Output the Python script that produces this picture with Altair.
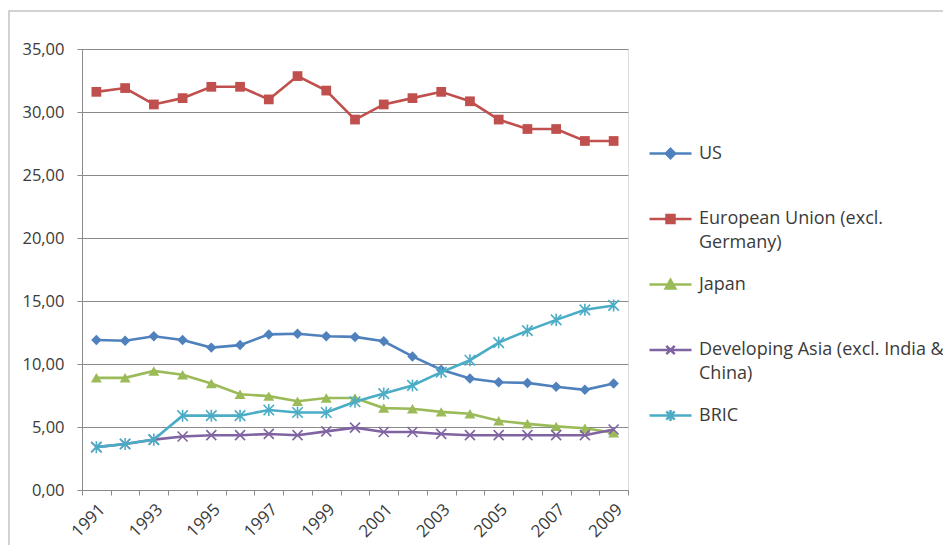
import altair as alt
import pandas as pd

# ---------------- data ----------------
years = list(range(1991, 2010))
series_names = [
    "US",
    "European Union (excl. Germany)",
    "Japan",
    "Developing Asia (excl. India & China)",
    "BRIC",
]
us = [11.9, 11.85, 12.2, 11.9, 11.3, 11.5, 12.35, 12.4, 12.2, 12.15,
      11.8, 10.6, 9.55, 8.85, 8.55, 8.5, 8.2, 7.95, 8.45]
eu = [31.6, 31.9, 30.6, 31.1, 32.0, 32.0, 31.0, 32.85, 31.7, 29.4,
      30.6, 31.1, 31.6, 30.85, 29.4, 28.65, 28.65, 27.7, 27.7]
japan = [8.9, 8.9, 9.45, 9.15, 8.45, 7.6, 7.45, 7.05, 7.3, 7.3,
         6.5, 6.45, 6.2, 6.05, 5.5, 5.25, 5.05, 4.9, 4.55]
dev_asia = [3.4, 3.65, 4.0, 4.25, 4.35, 4.35, 4.45, 4.35, 4.65, 4.95,
            4.6, 4.6, 4.45, 4.35, 4.35, 4.35, 4.35, 4.35, 4.8]
bric = [3.4, 3.65, 4.0, 5.9, 5.9, 5.9, 6.35, 6.15, 6.15, 7.0,
        7.65, 8.3, 9.35, 10.3, 11.7, 12.65, 13.5, 14.3, 14.65]

colors = ["#4F81BD", "#C0504D", "#9BBB59", "#8064A2", "#4BACC6"]
marker_shapes = ["diamond", "square", "triangle-up",
                 "M-1,-1L1,1M-1,1L1,-1",
                 "M-1,-1L1,1M-1,1L1,-1M0,-1.15L0,1.15"]
marker_filled = [True, True, True, False, False]
marker_sizes = [110, 95, 120, 100, 110]
legend_shapes = [
    "M-1,0H1M0,-0.22L0.22,0L0,0.22L-0.22,0Z",
    "M-1,0H1M-0.19,-0.19H0.19V0.19H-0.19Z",
    "M-1,0H1M0,-0.22L0.23,0.19L-0.23,0.19Z",
    "M-1,0H1M-0.2,-0.2L0.2,0.2M-0.2,0.2L0.2,-0.2",
    "M-1,0H1M-0.2,-0.2L0.2,0.2M-0.2,0.2L0.2,-0.2M0,-0.26V0.26",
]
y_ticks = [0, 5, 10, 15, 20, 25, 30, 35]
x_label_years = years[::2]
x_bounds = [y - 0.5 for y in years] + [years[-1] + 0.5]

rows = []
for name, vals in zip(series_names, [us, eu, japan, dev_asia, bric]):
    for yr, v in zip(years, vals):
        rows.append({"year": yr, "series": name, "value": v})
df = pd.DataFrame(rows)

FONT = "Open Sans"
TEXT = "#3b3b3b"
GRID = "#8a8a8a"

xscale = alt.Scale(domain=[1990.5, 2009.5], nice=False, zero=False)
yscale = alt.Scale(domain=[0, 35], nice=False, zero=True)

x_axis = alt.Axis(
    values=sorted(x_bounds + x_label_years),
    labelExpr="datum.value % 1 == 0 ? format(datum.value, 'd') : ''",
    tickOpacity={"condition": {"test": "datum.value % 1 == 0", "value": 0}, "value": 1},
    labelAngle=-45, labelAlign="right", labelBaseline="top",
    labelPadding=6, labelOverlap=False, labelFlush=False,
    grid=False, tickSize=5, tickColor=GRID, domainColor=GRID, domainWidth=1,
    labelFont=FONT, labelFontSize=17, labelColor=TEXT,
)
y_axis = alt.Axis(
    values=y_ticks,
    labelExpr="replace(format(datum.value, '.2f'), '.', ',')",
    grid=True, gridColor=GRID, gridWidth=1,
    tickSize=5, tickColor=GRID, domainColor=GRID, domainWidth=1,
    labelPadding=13, labelFont=FONT, labelFontSize=16.5, labelColor=TEXT,
)

X = alt.X("year:Q", scale=xscale, axis=x_axis, title=None)
Y = alt.Y("value:Q", scale=yscale, axis=y_axis, title=None)

base = alt.Chart(df)

layers = []
# frame around the chart (decoration)
frame = alt.Chart(pd.DataFrame({"f": [0]})).mark_rect(
    fill=None, stroke="#c3c3c3", strokeWidth=1.5
).encode(x=alt.value(-73), x2=alt.value(900), y=alt.value(-38), y2=alt.value(520))
layers.append(frame)

for name, col, shp, fil, sz in zip(series_names, colors, marker_shapes, marker_filled, marker_sizes):
    sub = base.transform_filter(alt.datum.series == name)
    layers.append(sub.mark_line(color=col, strokeWidth=2.6).encode(x=X, y=Y))
    if fil:
        pts = sub.mark_point(shape=shp, filled=True, color=col, size=sz, opacity=1)
    else:
        pts = sub.mark_point(shape=shp, filled=False, color=col, size=sz,
                             strokeWidth=1.6, opacity=1)
    layers.append(pts.encode(x=X, y=Y))

label_expr = (
    "datum.label == 'European Union (excl. Germany)' ? ['European Union (excl.', 'Germany)'] : "
    "datum.label == 'Developing Asia (excl. India & China)' ? ['Developing Asia (excl. India &', 'China)'] : "
    "[datum.label, ' ']"
)
legend = alt.Legend(
    title=None, orient="none", legendX=566, legendY=82, padding=0,
    symbolSize=1764, symbolStrokeWidth=2.5, rowPadding=9.5, symbolOpacity=1,
    labelFont=FONT, labelFontSize=18, labelColor=TEXT, labelLimit=500,
    labelOffset=6, labelBaseline="middle", labelExpr=label_expr,
)
legend_layer = base.transform_filter("false").mark_point(
    filled=True, size=1764, strokeWidth=2.5, opacity=1
).encode(
    x=X, y=Y,
    fill=alt.Fill("series:N", scale=alt.Scale(domain=series_names, range=colors), legend=legend),
    stroke=alt.Stroke("series:N", scale=alt.Scale(domain=series_names, range=colors), legend=legend),
    shape=alt.Shape("series:N", scale=alt.Scale(domain=series_names, range=legend_shapes), legend=legend),
)
layers.append(legend_layer)

chart = alt.layer(*layers).properties(
    width=546, height=441,
    autosize=alt.AutoSizeParams(type="none"),
    padding={"left": 74, "top": 41, "right": 315, "bottom": 55},
).configure_view(stroke=None).configure(
    background="white",
    style={"guide-label": {"lineHeight": 24}},
)

chart.save("out.html", embed_options={"renderer": "svg", "actions": False})
